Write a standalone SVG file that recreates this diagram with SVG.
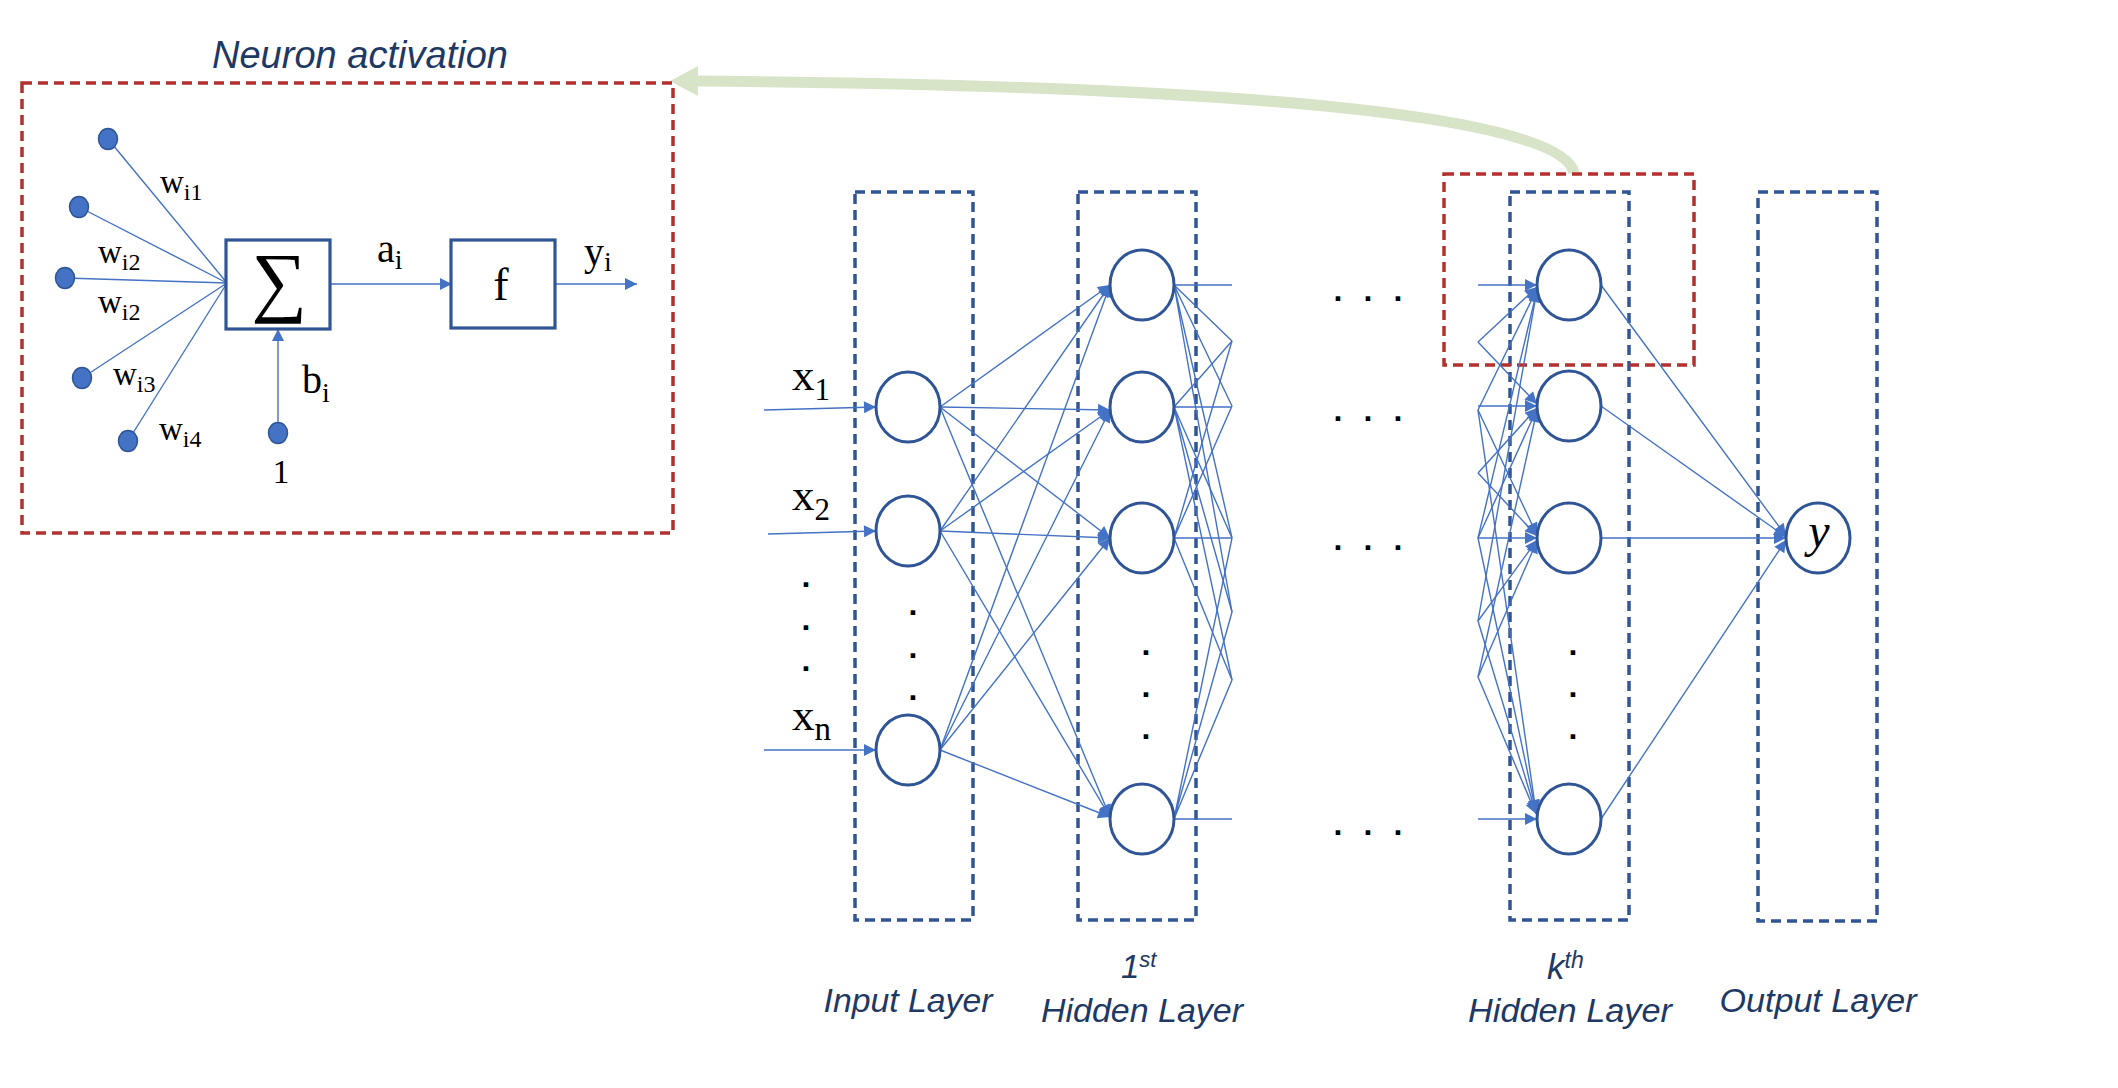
<svg xmlns="http://www.w3.org/2000/svg" width="2118" height="1088" viewBox="0 0 2118 1088">
<style>
.bg{fill:#ffffff}
.box{fill:none;stroke:#2F5597;stroke-width:3.5;stroke-dasharray:10 6}
.rbox{fill:none;stroke:#B3302C;stroke-width:3.5;stroke-dasharray:10 6}
.node{fill:#ffffff;stroke:#2F5597;stroke-width:3}
.blk{fill:#ffffff;stroke:#2F5597;stroke-width:3.2}
.dot{fill:#4472C4;stroke:#2F5597;stroke-width:1.5}
.ln{fill:none;stroke:#4472C4;stroke-width:1.4}
.lna{fill:none;stroke:#4472C4;stroke-width:1.4;marker-end:url(#ah)}
.lbl{font-family:"Liberation Sans",Arial,sans-serif;font-style:italic;fill:#203864}
.ser{font-family:"Liberation Serif","DejaVu Serif",serif;fill:#000000}
.pd{font-family:"Liberation Sans",Arial,sans-serif;font-size:32px;font-weight:bold;fill:#000000;text-anchor:middle}
</style>
<defs>
<marker id="ah" viewBox="0 0 10 10" refX="10" refY="5" markerWidth="14" markerHeight="12" markerUnits="userSpaceOnUse" orient="auto"><path d="M0,0 L10,5 L0,10 z" fill="#4472C4"/></marker>
</defs>
<rect class="bg" x="0" y="0" width="2118" height="1088"/>

<!-- green feedback arrow -->
<g id="feedback">
<path d="M1574,173 C1562,112 1200,85 696,81" fill="none" stroke="#D8E4C8" stroke-width="11"/>
<polygon points="670,81 698,66 698,96" fill="#D8E4C8"/>
</g>

<!-- neuron activation panel -->
<g id="neuron-panel">
<text class="lbl" x="212" y="68" font-size="38" textLength="296" lengthAdjust="spacingAndGlyphs">Neuron activation</text>
<rect class="rbox" x="22" y="83" width="651" height="450"/>
</g>

<g id="neuron-connectors">
<line class="ln" x1="108" y1="139" x2="227" y2="283"/>
<line class="ln" x1="79" y1="207" x2="227" y2="283"/>
<line class="ln" x1="65" y1="278" x2="227" y2="283"/>
<line class="ln" x1="82" y1="378" x2="227" y2="283"/>
<line class="ln" x1="128" y1="441" x2="227" y2="283"/>
<line class="lna" x1="278" y1="433" x2="278" y2="329"/>
<line class="lna" x1="330" y1="284" x2="452" y2="284"/>
<line class="lna" x1="555" y1="284" x2="637" y2="284"/>
</g>

<g id="neuron-inputs">
<ellipse class="dot" cx="108" cy="139" rx="9.5" ry="10.5"/>
<ellipse class="dot" cx="79" cy="207" rx="9.5" ry="10.5"/>
<ellipse class="dot" cx="65" cy="278" rx="9.5" ry="10.5"/>
<ellipse class="dot" cx="82" cy="378" rx="9.5" ry="10.5"/>
<ellipse class="dot" cx="128" cy="441" rx="9.5" ry="10.5"/>
<ellipse class="dot" cx="278" cy="433" rx="9.5" ry="10.5"/>
<text class="ser" x="160" y="193" font-size="33">w<tspan font-size="24" dy="7">i1</tspan></text>
<text class="ser" x="98" y="263" font-size="33">w<tspan font-size="24" dy="7">i2</tspan></text>
<text class="ser" x="98" y="313" font-size="33">w<tspan font-size="24" dy="7">i2</tspan></text>
<text class="ser" x="113" y="385" font-size="33">w<tspan font-size="24" dy="7">i3</tspan></text>
<text class="ser" x="159" y="440" font-size="33">w<tspan font-size="24" dy="7">i4</tspan></text>
<text class="ser" x="302" y="393" font-size="40">b<tspan font-size="28" dy="9">i</tspan></text>
<text class="ser" x="281" y="483" font-size="34" text-anchor="middle">1</text>
</g>

<g id="sum-node">
<rect class="blk" x="226" y="240" width="104" height="89"/>
<text class="ser" x="279" y="307" font-size="78" text-anchor="middle">∑</text>
</g>
<g id="f-node">
<rect class="blk" x="451" y="240" width="104" height="88"/>
<text class="ser" x="501" y="300" font-size="46" text-anchor="middle">f</text>
</g>
<text class="ser" x="377" y="262" font-size="40">a<tspan font-size="28" dy="7">i</tspan></text>
<text class="ser" x="584" y="265" font-size="40">y<tspan font-size="28" dy="6">i</tspan></text>

<!-- layer boxes -->
<g id="layer-boxes">
<rect class="box" x="855" y="192" width="118" height="728"/>
<rect class="box" x="1078" y="192" width="118" height="728"/>
<rect class="box" x="1510" y="192" width="119" height="728"/>
<rect class="box" x="1758" y="192" width="119" height="729"/>
<rect class="rbox" x="1444" y="174" width="250" height="191"/>
</g>

<!-- connectors -->
<g id="connectors">
<!-- inputs -->
<line class="lna" x1="764" y1="410" x2="876" y2="407"/>
<line class="lna" x1="768" y1="534" x2="876" y2="531"/>
<line class="lna" x1="764" y1="750" x2="876" y2="750"/>
<!-- input -> hidden 1 -->
<line class="lna" x1="940" y1="407" x2="1110" y2="285"/>
<line class="lna" x1="940" y1="407" x2="1110" y2="410"/>
<line class="lna" x1="940" y1="407" x2="1110" y2="538"/>
<line class="lna" x1="940" y1="407" x2="1110" y2="817"/>
<line class="lna" x1="940" y1="531" x2="1110" y2="285"/>
<line class="lna" x1="940" y1="531" x2="1110" y2="410"/>
<line class="lna" x1="940" y1="531" x2="1110" y2="538"/>
<line class="lna" x1="940" y1="531" x2="1110" y2="817"/>
<line class="lna" x1="940" y1="750" x2="1110" y2="285"/>
<line class="lna" x1="940" y1="750" x2="1110" y2="410"/>
<line class="lna" x1="940" y1="750" x2="1110" y2="538"/>
<line class="lna" x1="940" y1="750" x2="1110" y2="817"/>
<!-- hidden 1 outgoing (truncated) -->
<path class="ln" d="M1174,285 L1232,285 M1174,285 L1232,341 M1174,285 L1232,406 M1174,285 L1232,538 M1174,285 L1232,612"/>
<path class="ln" d="M1174,407 L1232,407 M1174,407 L1232,341 M1174,407 L1232,538 M1174,407 L1232,612 M1174,407 L1232,680"/>
<path class="ln" d="M1174,538 L1232,538 M1174,538 L1232,341 M1174,538 L1232,406 M1174,538 L1232,680"/>
<path class="ln" d="M1174,819 L1232,819 M1174,819 L1232,538 M1174,819 L1232,612 M1174,819 L1232,680"/>
<!-- into kth hidden -->
<line class="lna" x1="1478" y1="285" x2="1537" y2="285"/>
<line class="lna" x1="1478" y1="342" x2="1537" y2="287"/>
<line class="lna" x1="1478" y1="410" x2="1537" y2="289"/>
<line class="lna" x1="1478" y1="538" x2="1537" y2="290"/>
<line class="lna" x1="1478" y1="621" x2="1537" y2="290"/>
<line class="lna" x1="1478" y1="406" x2="1537" y2="406"/>
<line class="lna" x1="1478" y1="342" x2="1537" y2="404"/>
<line class="lna" x1="1478" y1="473" x2="1537" y2="408"/>
<line class="lna" x1="1478" y1="538" x2="1537" y2="409"/>
<line class="lna" x1="1478" y1="677" x2="1537" y2="410"/>
<line class="lna" x1="1478" y1="538" x2="1537" y2="538"/>
<line class="lna" x1="1478" y1="410" x2="1537" y2="535"/>
<line class="lna" x1="1478" y1="473" x2="1537" y2="536"/>
<line class="lna" x1="1478" y1="621" x2="1537" y2="540"/>
<line class="lna" x1="1478" y1="677" x2="1537" y2="541"/>
<line class="lna" x1="1478" y1="819" x2="1537" y2="819"/>
<line class="lna" x1="1478" y1="410" x2="1536" y2="812"/>
<line class="lna" x1="1478" y1="538" x2="1536" y2="812"/>
<line class="lna" x1="1478" y1="621" x2="1536" y2="813"/>
<line class="lna" x1="1478" y1="677" x2="1536" y2="814"/>
<!-- kth -> output -->
<line class="lna" x1="1601" y1="285" x2="1786" y2="536"/>
<line class="lna" x1="1601" y1="406" x2="1786" y2="537"/>
<line class="lna" x1="1601" y1="538" x2="1786" y2="538"/>
<line class="lna" x1="1601" y1="819" x2="1786" y2="540"/>
</g>

<!-- input layer nodes -->
<g id="input-layer">
<ellipse class="node" cx="908" cy="407" rx="32" ry="35"/>
<ellipse class="node" cx="908" cy="531" rx="32" ry="35"/>
<ellipse class="node" cx="908" cy="750" rx="32" ry="35"/>
<text class="pd" x="913" y="615">.</text>
<text class="pd" x="913" y="658">.</text>
<text class="pd" x="913" y="700">.</text>
<text class="ser" x="792" y="390" font-size="45">x<tspan font-size="31" dy="10">1</tspan></text>
<text class="ser" x="792" y="510" font-size="45">x<tspan font-size="31" dy="10">2</tspan></text>
<text class="ser" x="792" y="730" font-size="45">x<tspan font-size="33" dy="10">n</tspan></text>
<text class="pd" x="806" y="587">.</text>
<text class="pd" x="806" y="630">.</text>
<text class="pd" x="806" y="671">.</text>
<text class="lbl" x="908" y="1012" font-size="34" text-anchor="middle" textLength="169" lengthAdjust="spacingAndGlyphs">Input Layer</text>
</g>

<g id="hidden-1">
<ellipse class="node" cx="1142" cy="285" rx="32" ry="35"/>
<ellipse class="node" cx="1142" cy="407" rx="32" ry="35"/>
<ellipse class="node" cx="1142" cy="538" rx="32" ry="35"/>
<ellipse class="node" cx="1142" cy="819" rx="32" ry="35"/>
<text class="pd" x="1146" y="655">.</text>
<text class="pd" x="1146" y="697">.</text>
<text class="pd" x="1146" y="739">.</text>
<text class="lbl" x="1121" y="978" font-size="33">1<tspan font-size="22" dy="-11">st</tspan></text>
<text class="lbl" x="1142" y="1022" font-size="34" text-anchor="middle" textLength="202" lengthAdjust="spacingAndGlyphs">Hidden Layer</text>
</g>

<g id="ellipsis">
<text class="pd" x="1338" y="301">.</text><text class="pd" x="1368" y="301">.</text><text class="pd" x="1398" y="301">.</text>
<text class="pd" x="1338" y="421">.</text><text class="pd" x="1368" y="421">.</text><text class="pd" x="1398" y="421">.</text>
<text class="pd" x="1338" y="550">.</text><text class="pd" x="1368" y="550">.</text><text class="pd" x="1398" y="550">.</text>
<text class="pd" x="1338" y="835">.</text><text class="pd" x="1368" y="835">.</text><text class="pd" x="1398" y="835">.</text>
</g>

<g id="hidden-k">
<ellipse class="node" cx="1569" cy="285" rx="32" ry="35"/>
<ellipse class="node" cx="1569" cy="406" rx="32" ry="35"/>
<ellipse class="node" cx="1569" cy="538" rx="32" ry="35"/>
<ellipse class="node" cx="1569" cy="819" rx="32" ry="35"/>
<text class="pd" x="1573" y="655">.</text>
<text class="pd" x="1573" y="697">.</text>
<text class="pd" x="1573" y="739">.</text>
<text class="lbl" x="1547" y="979" font-size="35">k<tspan font-size="23" dy="-11">th</tspan></text>
<text class="lbl" x="1570" y="1022" font-size="34" text-anchor="middle" textLength="204" lengthAdjust="spacingAndGlyphs">Hidden Layer</text>
</g>

<g id="output-layer">
<ellipse class="node" cx="1818" cy="538" rx="32" ry="35"/>
<text class="ser" x="1819" y="547" font-size="48" font-style="italic" text-anchor="middle">y</text>
<text class="lbl" x="1818" y="1012" font-size="34" text-anchor="middle" textLength="197" lengthAdjust="spacingAndGlyphs">Output Layer</text>
</g>
</svg>
